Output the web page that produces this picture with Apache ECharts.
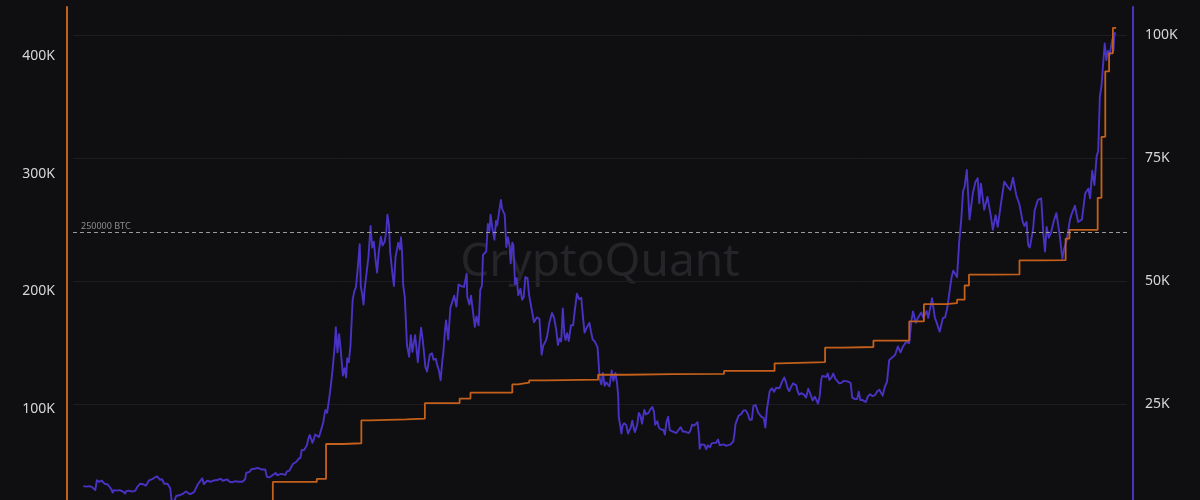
<!DOCTYPE html>
<html>
<head>
<meta charset="utf-8">
<script src="https://cdn.jsdelivr.net/npm/echarts@6/dist/echarts.min.js"></script>
<style>
html,body{margin:0;padding:0;background:#0f0f11;}
#chart{width:1200px;height:500px;}
</style>
</head>
<body>
<div id="chart"></div>
<script>
// BTC price (USD), right axis
const btcPrice = [
['2019-10-01',8300],['2019-10-04',8100],['2019-10-07',8200],['2019-10-10',8600],['2019-10-12',8300],['2019-10-15',8200],['2019-10-17',8100],['2019-10-20',8200],
['2019-10-23',7500],['2019-10-26',9500],['2019-10-28',9300],['2019-10-30',9200],['2019-11-02',9300],['2019-11-04',9400],['2019-11-07',9200],['2019-11-09',8800],
['2019-11-12',8800],['2019-11-14',8700],['2019-11-17',8500],['2019-11-19',8100],['2019-11-22',7600],['2019-11-24',7000],['2019-11-27',7500],['2019-11-29',7700],
['2019-12-02',7400],['2019-12-04',7300],['2019-12-07',7500],['2019-12-10',7300],['2019-12-13',7200],['2019-12-17',6800],['2019-12-19',7300],['2019-12-21',7200],
['2019-12-24',7400],['2019-12-27',7300],['2019-12-30',7200],
['2020-01-02',7000],['2020-01-05',7400],['2020-01-08',8100],['2020-01-11',8100],['2020-01-14',8800],['2020-01-17',8900],['2020-01-19',8700],['2020-01-22',8700],
['2020-01-24',8400],['2020-01-27',8900],['2020-01-30',9500],['2020-02-02',9400],['2020-02-06',9800],['2020-02-10',10100],['2020-02-14',10300],['2020-02-17',9900],
['2020-02-19',9600],['2020-02-21',9700],['2020-02-23',9700],['2020-02-25',9300],['2020-02-27',8800],['2020-03-01',8600],['2020-03-04',8800],['2020-03-07',8900],
['2020-03-09',7900],['2020-03-12',5000],['2020-03-14',5300],['2020-03-16',5100],['2020-03-18',5300],['2020-03-20',6300],['2020-03-23',6500],['2020-03-27',6500],
['2020-03-30',6400],['2020-04-02',6800],['2020-04-05',6800],['2020-04-07',7200],['2020-04-11',6900],['2020-04-15',6700],['2020-04-18',7100],['2020-04-22',7100],
['2020-04-25',7500],['2020-04-29',8700],['2020-05-02',8900],['2020-05-07',9900],['2020-05-10',8700],['2020-05-12',8800],['2020-05-16',9400],['2020-05-19',9700],
['2020-05-23',9200],['2020-05-26',8900],['2020-05-29',9500],['2020-06-02',9500],['2020-06-05',9800],['2020-06-10',9800],['2020-06-14',9400],['2020-06-17',9450],
['2020-06-22',9700],['2020-06-26',9200],['2020-06-29',9200],['2020-07-02',9100],['2020-07-06',9300],['2020-07-09',9300],['2020-07-13',9200],['2020-07-16',9100],
['2020-07-20',9200],['2020-07-22',9400],['2020-07-25',9700],['2020-07-27',11000],['2020-07-30',11100],['2020-08-02',11200],['2020-08-06',11800],['2020-08-10',11800],
['2020-08-13',11600],['2020-08-17',12000],['2020-08-20',11800],['2020-08-24',11700],['2020-08-27',11300],['2020-08-31',11700],['2020-09-03',10200],['2020-09-05',10300],
['2020-09-08',10100],['2020-09-12',10400],['2020-09-15',10800],['2020-09-19',11000],['2020-09-22',10500],['2020-09-26',10700],['2020-09-30',10800],['2020-10-03',10600],
['2020-10-07',10600],['2020-10-10',11300],['2020-10-14',11400],['2020-10-17',11400],['2020-10-21',12800],['2020-10-24',13100],['2020-10-28',13300],['2020-10-31',13800],
['2020-11-04',14100],['2020-11-06',15600],['2020-11-08',15500],['2020-11-11',15700],['2020-11-14',16000],['2020-11-16',16700],['2020-11-18',17800],['2020-11-21',18700],
['2020-11-24',19100],['2020-11-26',17100],['2020-11-28',17700],['2020-12-01',18800],['2020-12-04',19200],['2020-12-08',18300],['2020-12-11',18000],['2020-12-16',21300],
['2020-12-18',22800],['2020-12-20',23800],['2020-12-23',23200],['2020-12-27',26300],['2020-12-30',28900],
['2021-01-02',32000],['2021-01-04',31900],['2021-01-06',36800],['2021-01-08',40600],['2021-01-11',35500],['2021-01-14',39200],['2021-01-17',36000],['2021-01-21',30800],
['2021-01-24',32300],['2021-01-27',30400],['2021-01-29',34300],['2021-02-01',33500],['2021-02-04',36900],['2021-02-08',46200],['2021-02-11',47900],['2021-02-14',48700],
['2021-02-17',52100],['2021-02-21',57500],['2021-02-23',48900],['2021-02-26',47000],['2021-02-28',45200],['2021-03-02',48300],['2021-03-05',48400],['2021-03-09',54800],
['2021-03-13',61200],['2021-03-16',56800],['2021-03-19',58000],['2021-03-22',54500],['2021-03-25',51700],['2021-03-28',55800],['2021-04-01',59000],['2021-04-04',57200],
['2021-04-08',58000],['2021-04-11',60200],['2021-04-13',63500],['2021-04-16',61300],['2021-04-18',56000],['2021-04-22',51700],['2021-04-25',49000],['2021-04-28',54900],
['2021-05-03',57800],['2021-05-06',56400],['2021-05-08',58900],['2021-05-10',55900],['2021-05-12',49200],['2021-05-15',46800],['2021-05-19',37000],['2021-05-21',37300],
['2021-05-23',34600],['2021-05-26',39000],['2021-05-29',35600],['2021-06-03',39000],['2021-06-06',35800],['2021-06-08',33500],['2021-06-11',37300],['2021-06-14',40500],
['2021-06-17',38100],['2021-06-22',32500],['2021-06-25',31600],['2021-06-30',35000],['2021-07-04',35300],['2021-07-07',34000],['2021-07-11',34200],['2021-07-14',32800],
['2021-07-17',31800],['2021-07-20',29800],['2021-07-23',33600],['2021-07-25',35400],['2021-07-28',40000],['2021-07-30',42000],['2021-08-03',38100],['2021-08-07',44600],
['2021-08-10',45600],['2021-08-14',47000],['2021-08-18',44800],['2021-08-22',49300],['2021-08-25',48900],['2021-08-28',48900],['2021-09-01',48800],['2021-09-06',51500],
['2021-09-07',46800],['2021-09-11',45200],['2021-09-14',47000],['2021-09-17',47300],['2021-09-21',40700],['2021-09-24',42800],['2021-09-28',41000],['2021-10-01',48200],
['2021-10-04',49000],['2021-10-06',55300],['2021-10-09',55000],['2021-10-12',56000],['2021-10-15',61600],['2021-10-18',60200],['2021-10-20',63500],['2021-10-23',60900],
['2021-10-27',58400],['2021-10-30',62200],['2021-11-01',61300],['2021-11-04',61400],['2021-11-08',66500],['2021-11-10',64800],['2021-11-12',64200],['2021-11-15',63500],
['2021-11-18',56900],['2021-11-21',58900],['2021-11-24',57100],['2021-11-26',53600],['2021-11-29',57800],['2021-12-01',57200],['2021-12-04',49400],['2021-12-07',50600],
['2021-12-10',47100],['2021-12-14',48400],['2021-12-17',46200],['2021-12-20',46700],['2021-12-23',50800],['2021-12-27',50600],['2021-12-30',47100],
['2022-01-02',47300],['2022-01-05',43400],['2022-01-08',41600],['2022-01-10',41800],['2022-01-13',42600],['2022-01-15',43000],['2022-01-18',42300],['2022-01-22',35000],
['2022-01-25',36900],['2022-01-27',37000],['2022-01-30',37900],['2022-02-01',38700],['2022-02-05',41400],['2022-02-10',43500],['2022-02-14',42500],['2022-02-18',40000],
['2022-02-21',37000],['2022-02-24',38300],['2022-02-27',37700],['2022-03-02',44400],['2022-03-05',39100],['2022-03-07',38000],['2022-03-10',39400],['2022-03-13',37800],
['2022-03-17',41000],['2022-03-21',41000],['2022-03-24',44000],['2022-03-28',47400],['2022-04-01',46300],['2022-04-05',46600],['2022-04-08',42800],['2022-04-11',39500],
['2022-04-15',40500],['2022-04-20',41500],['2022-04-23',39700],['2022-04-26',38100],['2022-04-30',37700],['2022-05-03',37700],['2022-05-05',36500],['2022-05-09',30000],
['2022-05-12',29000],['2022-05-15',31300],['2022-05-18',28700],['2022-05-21',29400],['2022-05-24',29100],['2022-05-27',28600],['2022-05-31',31800],['2022-06-03',29700],
['2022-06-07',31300],['2022-06-10',29100],['2022-06-12',26600],['2022-06-13',22500],['2022-06-15',22600],['2022-06-18',19000],['2022-06-20',20600],['2022-06-23',21100],
['2022-06-27',20700],['2022-06-30',19000],['2022-07-02',19300],['2022-07-05',20200],['2022-07-08',21600],['2022-07-11',19900],['2022-07-13',19300],['2022-07-17',20800],
['2022-07-20',23200],['2022-07-23',22600],['2022-07-26',21000],['2022-07-30',23800],['2022-08-02',22900],['2022-08-07',23200],['2022-08-10',23900],['2022-08-14',24400],
['2022-08-17',23400],['2022-08-19',20800],['2022-08-23',21500],['2022-08-26',20200],['2022-08-30',19800],['2022-09-03',19800],['2022-09-06',18800],['2022-09-09',21400],
['2022-09-12',22400],['2022-09-15',19700],['2022-09-19',19500],['2022-09-22',19400],['2022-09-27',19100],['2022-09-30',19400],['2022-10-05',20300],['2022-10-09',19400],
['2022-10-13',19400],['2022-10-16',19200],['2022-10-20',19100],['2022-10-23',19600],['2022-10-26',20800],['2022-10-30',20600],['2022-11-02',20200],['2022-11-05',21300],
['2022-11-08',18500],['2022-11-09',15900],['2022-11-12',16800],['2022-11-15',16900],['2022-11-18',16700],['2022-11-21',15800],['2022-11-24',16600],['2022-11-28',16200],
['2022-12-01',17000],['2022-12-05',17100],['2022-12-09',17100],['2022-12-13',17800],['2022-12-16',16600],['2022-12-19',16400],['2022-12-23',16800],['2022-12-28',16500],
['2022-12-31',16500],
['2023-01-05',16800],['2023-01-10',17400],['2023-01-12',18800],['2023-01-14',20900],['2023-01-17',21100],['2023-01-20',22700],['2023-01-24',22900],['2023-01-29',23700],
['2023-02-02',23700],['2023-02-06',22900],['2023-02-09',21800],['2023-02-13',21800],['2023-02-16',24600],['2023-02-20',24800],['2023-02-25',23200],['2023-02-28',23100],
['2023-03-03',22400],['2023-03-07',22200],['2023-03-10',20200],['2023-03-13',24100],['2023-03-14',24700],['2023-03-18',27600],['2023-03-22',28200],['2023-03-26',27500],
['2023-03-30',28300],['2023-04-05',28200],['2023-04-08',27900],['2023-04-10',29600],['2023-04-14',30400],['2023-04-17',29400],['2023-04-20',28200],['2023-04-23',27600],
['2023-04-26',28400],['2023-04-30',29200],['2023-05-06',28800],['2023-05-08',27700],['2023-05-11',26900],['2023-05-15',27200],['2023-05-20',26900],['2023-05-24',26300],
['2023-05-28',28100],['2023-06-01',27000],['2023-06-05',25700],['2023-06-09',26500],['2023-06-15',25100],['2023-06-18',26500],['2023-06-21',30000],['2023-06-23',30700],
['2023-06-26',30300],['2023-06-30',30500],['2023-07-03',31200],['2023-07-06',29900],['2023-07-10',30400],['2023-07-13',31200],['2023-07-17',30100],['2023-07-20',29800],
['2023-07-24',29200],['2023-07-28',29300],['2023-08-01',29700],['2023-08-08',29600],['2023-08-11',29400],['2023-08-14',29300],['2023-08-17',26300],['2023-08-22',26000],
['2023-08-26',26000],['2023-08-29',27500],['2023-09-01',25800],['2023-09-05',25800],['2023-09-08',25900],['2023-09-11',25400],['2023-09-15',26600],['2023-09-19',27000],
['2023-09-23',26600],['2023-09-28',26800],['2023-10-02',27600],['2023-10-06',27900],['2023-10-12',26700],['2023-10-16',28500],['2023-10-20',29500],['2023-10-24',33900],
['2023-10-27',33900],['2023-10-31',34600],['2023-11-04',35000],['2023-11-09',36700],['2023-11-12',37000],['2023-11-14',35500],['2023-11-18',36600],['2023-11-24',37600],
['2023-11-27',37200],['2023-11-30',37400],['2023-12-04',41900],['2023-12-07',43800],['2023-12-10',43700],['2023-12-12',41500],['2023-12-16',42500],['2023-12-18',42600],
['2023-12-22',43600],['2023-12-26',42500],['2023-12-29',42100],
['2024-01-01',43900],['2024-01-04',42500],['2024-01-11',46500],['2024-01-16',42600],['2024-01-19',41700],['2024-01-25',39700],['2024-01-31',42500],['2024-02-04',42600],
['2024-02-08',44500],['2024-02-13',48500],['2024-02-16',50800],['2024-02-19',52100],['2024-02-22',52000],['2024-02-26',50800],
['2024-03-01',58000],['2024-03-05',62800],['2024-03-08',68200],['2024-03-11',69200],['2024-03-15',72600],['2024-03-20',62500],
['2024-03-26',67800],['2024-03-31',70200],['2024-04-04',70900],['2024-04-07',65800],['2024-04-10',69800],['2024-04-16',64500],
['2024-04-22',67100],['2024-04-28',63400],['2024-05-02',60400],['2024-05-07',63400],['2024-05-11',61000],['2024-05-17',65800],
['2024-05-23',70200],['2024-05-29',69200],['2024-06-03',68500],['2024-06-08',71000],['2024-06-14',67500],['2024-06-20',65500],['2024-06-26',62000],
['2024-06-29',61200],['2024-07-03',62000],['2024-07-06',57300],['2024-07-09',56800],['2024-07-15',60500],['2024-07-18',64400],['2024-07-24',66500],
['2024-07-30',66800],['2024-08-03',59500],['2024-08-06',56000],['2024-08-09',61000],['2024-08-13',58800],['2024-08-17',59800],
['2024-08-23',62500],['2024-08-27',63800],['2024-09-02',59400],['2024-09-07',54500],['2024-09-10',56500],['2024-09-15',58300],
['2024-09-21',62500],['2024-09-24',63600],['2024-09-30',65300],['2024-10-06',62000],['2024-10-13',62500],['2024-10-19',67800],
['2024-10-25',68800],['2024-10-28',66800],['2024-11-01',72400],['2024-11-05',69500],['2024-11-09',75300],['2024-11-12',76500],
['2024-11-15',87500],['2024-11-18',89600],['2024-11-22',95500],['2024-11-24',98300],['2024-11-27',94900],['2024-11-30',96800],
['2024-12-03',95900],['2024-12-08',99200],['2024-12-10',96800],['2024-12-12',100400],['2024-12-15',100300]
];

// Strategy (MicroStrategy) BTC holdings, left axis
const btcHoldings = [
['2020-08-11',21454],['2020-09-14',38250],['2020-12-04',40824],['2020-12-21',70470],['2021-01-22',71079],
['2021-02-24',90531],['2021-03-12',91326],['2021-05-18',92079],['2021-06-21',105085],['2021-08-24',108992],
['2021-09-13',114042],['2021-11-29',121044],['2021-12-09',122478],['2021-12-30',124391],['2022-02-01',125051],
['2022-05-06',129218],['2022-06-29',129699],['2022-09-20',130000],['2022-12-24',132500],['2023-03-27',138955],
['2023-04-05',140000],['2023-06-28',152333],['2023-07-31',152800],['2023-09-25',158245],['2023-11-30',174530],
['2023-12-27',189150],['2024-02-06',190000],['2024-02-26',193000],['2024-03-11',205000],['2024-03-19',214246],
['2024-05-01',214400],['2024-06-20',226331],['2024-08-01',226500],['2024-09-13',244800],['2024-09-20',252220],
['2024-11-11',279420],['2024-11-18',331200],['2024-11-25',386700],['2024-12-02',402100],['2024-12-09',423650],
['2024-12-15',423650]
];

const referenceLevel = 250000;
const referenceLabel = '250000 BTC';
const timeRange = ['2019-09-12', '2025-01-04'];
const leftAxisRange = [0, 441400, 100000];
const rightAxisRange = [0, 105700, 25000];

const ORANGE = '#c4601b';
const PURPLE = '#4833c4';

const chart = echarts.init(document.getElementById('chart'), null, {renderer: 'canvas'});
const kFmt = v => (v / 1000) + 'K';

chart.setOption({
  backgroundColor: '#0f0f11',
  animation: false,
  grid: {left: 73, top: 7, width: 1054, height: 520, outerBoundsMode: 'none', containLabel: false},
  graphic: [{
    type: 'text', left: 'center', top: 240, z: -10, silent: true,
    style: {text: 'CryptoQuant', fill: '#252529', font: '46px "Noto Sans"'}
  }],
  xAxis: {
    type: 'time', min: timeRange[0], max: timeRange[1], show: false
  },
  yAxis: [{
    type: 'value', position: 'left', offset: 6,
    min: leftAxisRange[0], max: leftAxisRange[1], interval: leftAxisRange[2],
    axisLine: {show: true, lineStyle: {color: ORANGE, width: 2}},
    axisTick: {show: false},
    splitLine: {show: false},
    axisLabel: {color: '#d6d6d6', fontSize: 14, fontFamily: 'Noto Sans', margin: 12,
      formatter: kFmt, showMaxLabel: false, showMinLabel: false}
  }, {
    type: 'value', position: 'right', offset: 6,
    min: rightAxisRange[0], max: rightAxisRange[1], interval: rightAxisRange[2],
    axisLine: {show: true, lineStyle: {color: PURPLE, width: 2}},
    axisTick: {show: false},
    splitLine: {show: true, showMaxLine: false, lineStyle: {color: '#1d1d21', width: 1}},
    axisLabel: {color: '#d6d6d6', fontSize: 14, fontFamily: 'Noto Sans', margin: 12,
      formatter: kFmt, showMaxLabel: false, showMinLabel: false}
  }],
  series: [{
    name: 'BTC Price', type: 'line', yAxisIndex: 1, data: btcPrice,
    showSymbol: false, symbol: 'none', z: 2,
    lineStyle: {color: PURPLE, width: 1.9, join: 'round'}, itemStyle: {color: PURPLE}
  }, {
    name: 'BTC Holdings', type: 'line', yAxisIndex: 0, data: btcHoldings, step: 'end',
    showSymbol: false, symbol: 'none', z: 3,
    lineStyle: {color: ORANGE, width: 1.8}, itemStyle: {color: ORANGE},
    markLine: {
      silent: true, symbol: 'none',
      lineStyle: {color: '#9a9a9a', type: [4, 3], width: 1},
      label: {show: true, position: 'insideStartTop', formatter: referenceLabel,
        color: '#8c8c8c', fontSize: 9, fontFamily: 'Noto Sans', distance: [8, 2]},
      data: [{yAxis: referenceLevel}]
    }
  }]
});
</script>
</body>
</html>
